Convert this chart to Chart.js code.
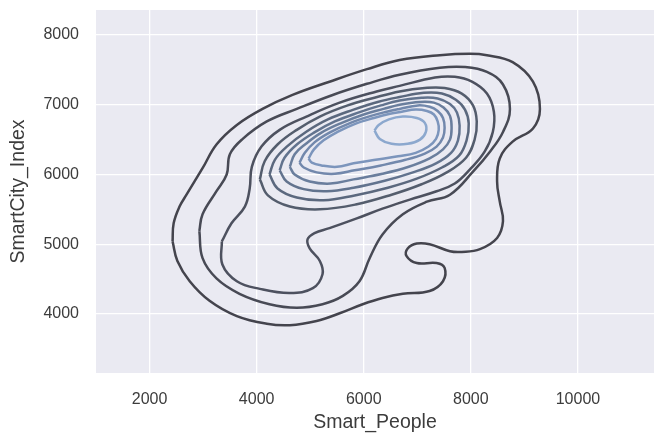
<!DOCTYPE html>
<html>
<head>
<meta charset="utf-8">
<script src="https://cdn.jsdelivr.net/npm/chart.js@4.4.0/dist/chart.umd.min.js"></script>
<style>
  html, body { margin: 0; padding: 0; background: #fff; }
</style>
</head>
<body>
<canvas id="kdeChart" width="654" height="434"></canvas>
<script>
// tick labels
var xTicks = [2000, 4000, 6000, 8000, 10000];
var yTicks = [4000, 5000, 6000, 7000, 8000];

// contour lines, outermost (c1) to innermost (c10)
var c1x = [2430,2450,2560,2690,2990,3250,3630,4110,4670,5360,6060,6670,7420,7980,8300,8780,9160,9290,9160,8780,8540,8490,8540,8600,8490,8170,7830,7610,7230,6990,6820,6800,6990,7360,7510,7480,7230,6730,6350,5980,5550,5120,4620,4190,3630,3120,2750,2520];
var c1y = [5040,5300,5540,5710,6090,6430,6710,6940,7140,7330,7510,7640,7710,7730,7710,7610,7330,6940,6660,6470,6230,5900,5610,5330,5090,4930,4890,4900,5000,5010,4940,4830,4730,4730,4660,4470,4330,4290,4230,4140,4010,3900,3840,3860,3970,4190,4470,4760];

var c2x = [2930,2990,3250,3680,4240,4750,5230,5610,5920,6110,6350,6730,7180,7610,8040,8360,8600,8730,8600,8300,7890,7420,6670,6060,5420,4750,4190,3740,3500,3440,3250,2990];
var c2y = [5190,4800,4510,4290,4140,4090,4140,4260,4470,4800,5140,5430,5610,5710,6040,6330,6610,6940,7290,7470,7540,7530,7430,7300,7140,6940,6760,6510,6290,6000,5760,5430];

var c3x = [3350,3360,3630,4060,4620,5050,5230,5180,4990,4950,5080,5360,5870,6350,6860,7360,7700,7980,8260,8410,8430,8300,8020,7700,7330,6670,6240,5550,4930,4430,4090,3910,3870,3780,3530];
var c3y = [5040,4710,4470,4360,4300,4370,4570,4760,4940,5070,5160,5230,5370,5510,5640,5760,5870,6070,6330,6610,6900,7160,7330,7400,7390,7270,7190,7030,6830,6640,6400,6110,5800,5540,5300];

var c4x = [4060,4150,4390,4750,5180,5700,6200,6670,7140,7510,7830,8040,8110,8070,7910,7550,7080,6520,5850,5180,4620,4210];
var c4y = [5930,6190,6430,6640,6830,6990,7100,7190,7240,7240,7160,6990,6760,6500,6240,6030,5860,5710,5570,5500,5540,5700];

var c5x = [4240,4340,4580,4920,5330,5810,6260,6670,7120,7460,7720,7890,7960,7920,7780,7460,6990,6450,5830,5250,4750,4390];
var c5y = [6000,6210,6410,6610,6790,6930,7040,7110,7170,7160,7070,6930,6730,6490,6270,6100,5940,5810,5700,5630,5670,5800];

var c6x = [4430,4520,4750,5070,5460,5910,6320,6670,7080,7380,7610,7740,7790,7760,7630,7350,6920,6390,5810,5310,4880,4560];
var c6y = [6060,6240,6430,6600,6760,6890,6990,7060,7100,7090,7010,6890,6700,6490,6310,6160,6030,5910,5810,5760,5790,5900];

var c7x = [4620,4710,4920,5210,5590,6000,6370,6670,7050,7310,7490,7610,7640,7610,7480,7230,6840,6350,5810,5380,4990,4710];
var c7y = [6110,6290,6440,6600,6740,6860,6940,7000,7040,7030,6960,6840,6670,6500,6360,6230,6110,6010,5930,5870,5900,6000];

var c8x = [4800,4900,5080,5360,5720,6090,6430,6670,7010,7230,7380,7480,7510,7480,7360,7140,6780,6320,5830,5460,5120,4880];
var c8y = [6170,6310,6460,6600,6730,6830,6900,6940,6990,6970,6910,6810,6670,6530,6400,6300,6210,6130,6060,6010,6030,6100];

var c9x = [4970,5070,5250,5510,5850,6190,6490,6710,6970,7180,7310,7380,7400,7350,7210,6970,6640,6220,5810,5500,5210,5030];
var c9y = [6230,6360,6490,6610,6730,6810,6870,6900,6930,6910,6860,6760,6640,6510,6400,6310,6260,6210,6160,6110,6130,6170];

var c10x = [6200,6300,6520,6820,7050,7160,7140,6990,6730,6470,6280];
var c10y = [6630,6510,6440,6440,6500,6610,6740,6810,6830,6790,6710];

var lineColors = ['#44444d','#484a55','#4d515f','#545d6d','#5b687e','#62738e','#6a7e9d','#7288ac','#7c95bc','#8ca8ce'];

function loop(xs, ys) {
  var pts = xs.map(function (x, i) { return { x: x, y: ys[i] }; });
  pts.push({ x: xs[0], y: ys[0] });
  return pts;
}

var contours = [[c1x,c1y],[c2x,c2y],[c3x,c3y],[c4x,c4y],[c5x,c5y],[c6x,c6y],[c7x,c7y],[c8x,c8y],[c9x,c9y],[c10x,c10y]];

var datasets = contours.map(function (c, i) {
  return {
    data: loop(c[0], c[1]),
    showLine: true,
    borderColor: lineColors[i],
    borderWidth: 2.5,
    pointRadius: 0,
    tension: 0.4,
    fill: false
  };
});

var plotBg = {
  id: 'plotBg',
  beforeDraw: function (chart) {
    var a = chart.chartArea, ctx = chart.ctx;
    ctx.save();
    ctx.fillStyle = '#eaeaf2';
    ctx.fillRect(a.left, a.top, a.right - a.left, a.bottom - a.top);
    ctx.restore();
  }
};

var family = "'Liberation Sans', Arial, sans-serif";
var tickFont = { family: family, size: 16 };
var titleFont = { family: family, size: 19.5 };

var ctx = document.getElementById('kdeChart').getContext('2d');
var myChart = new Chart(ctx, {
  type: 'scatter',
  data: { datasets: datasets },
  options: {
    responsive: false,
    animation: false,
    layout: { padding: { top: 10, right: 0, left: 0, bottom: 0 } },
    plugins: {
      legend: { display: false },
      tooltip: { enabled: false }
    },
    scales: {
      x: {
        type: 'linear',
        min: 1000,
        max: 11420,
        afterBuildTicks: function (s) { s.ticks = xTicks.map(function (v) { return { value: v }; }); },
        afterFit: function (s) { s.height = 61; s.paddingLeft = 0; s.paddingRight = 0; },
        grid: { color: '#ffffff', lineWidth: 1.3, drawTicks: false },
        border: { display: false },
        ticks: { font: tickFont, color: '#3c3c3c', padding: 17, maxRotation: 0, callback: function (v) { return String(v); } },
        title: { display: true, text: 'Smart_People', color: '#3c3c3c', font: titleFont, padding: { top: 0, bottom: 0 } }
      },
      y: {
        type: 'linear',
        min: 3154,
        max: 8358,
        afterBuildTicks: function (s) { s.ticks = yTicks.map(function (v) { return { value: v }; }); },
        afterFit: function (s) { s.width = 96; s.paddingTop = 0; s.paddingBottom = 0; },
        grid: { color: '#ffffff', lineWidth: 1.3, drawTicks: false },
        border: { display: false },
        ticks: { font: tickFont, color: '#3c3c3c', padding: 17, callback: function (v) { return String(v); } },
        title: { display: true, text: 'SmartCity_Index', color: '#3c3c3c', font: titleFont, padding: { top: 7, bottom: 0 } }
      }
    }
  },
  plugins: [plotBg]
});
</script>
</body>
</html>
